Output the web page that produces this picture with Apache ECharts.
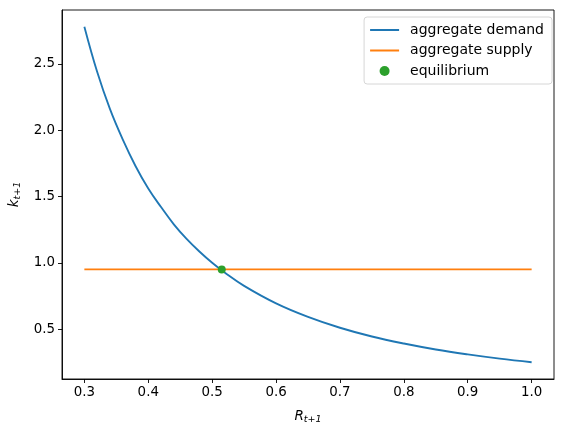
<!DOCTYPE html>
<html>
<head>
<meta charset="utf-8">
<script src="https://cdn.jsdelivr.net/npm/echarts@6/dist/echarts.min.js"></script>
<style>
  html, body { margin: 0; padding: 0; background: #fff; }
  #chart { width: 567px; height: 433px; }
</style>
</head>
<body>
<div id="chart"></div>
<script>
// values
const demandR = [0.30, 0.32, 0.34, 0.36, 0.38, 0.40, 0.42, 0.44, 0.46, 0.48, 0.50, 0.52,
  0.55, 0.60, 0.65, 0.70, 0.75, 0.80, 0.85, 0.90, 0.95, 1.00]
const demandK = [2.78, 2.44, 2.16, 1.93, 1.73, 1.56, 1.42, 1.29, 1.18, 1.085, 1.00, 0.925,
  0.826, 0.694, 0.592, 0.510, 0.444, 0.391, 0.346, 0.309, 0.277, 0.25]
const supplyR = [0.30, 1.00]
const supplyK = [0.95, 0.95]
const equilibrium = [0.515, 0.95]
const xTicks = [0.3, 0.4, 0.5, 0.6, 0.7, 0.8, 0.9, 1.0]
const yTicks = [0.5, 1.0, 1.5, 2.0, 2.5]

const font = 'DejaVu Sans'
const fs = 13.4
const zip = (xs, ys) => xs.map((x, i) => [x, ys[i]])

const chart = echarts.init(document.getElementById('chart'), null, { renderer: 'canvas' })

const subLabel = (base) => ({
  name: '{i|' + base + '}{s|t+1}',
  nameTextStyle: {
    rich: {
      i: { fontFamily: font, fontStyle: 'italic', fontSize: 13.5, color: '#000' },
      s: { fontFamily: font, fontStyle: 'italic', fontSize: 9.5, color: '#000', verticalAlign: 'bottom', padding: [7, 0, 0, 0] }
    }
  }
})

const option = {
  animation: false,
  grid: {
    left: 62, top: 10, right: 13, bottom: 54,
    outerBoundsMode: 'none',
    containLabel: false,
    show: true, borderColor: '#000', borderWidth: 0.9
  },
  legend: {
    orient: 'vertical',
    right: 15, top: 17,
    itemWidth: 29, itemHeight: 10, itemGap: 6.5,
    padding: [6, 8, 6, 5],
    borderColor: '#d6d6d6', borderWidth: 1, borderRadius: 3,
    textStyle: { fontFamily: font, fontSize: 14, color: '#000', padding: [0, 0, 0, 6] },
    data: [
      { name: 'aggregate demand', itemStyle: { opacity: 0 } },
      { name: 'aggregate supply', itemStyle: { opacity: 0 } },
      { name: 'equilibrium', icon: 'circle', itemStyle: { opacity: 1 } }
    ]
  },
  xAxis: {
    type: 'value',
    min: 0.265, max: 1.035,
    ...subLabel('R'),
    nameLocation: 'middle', nameGap: 29,
    axisLine: { show: true, lineStyle: { color: '#000', width: 0.9 } },
    axisTick: { show: true, length: 4, lineStyle: { color: '#000', width: 0.9 }, customValues: xTicks },
    axisLabel: {
      fontFamily: font, fontSize: fs, color: '#000', margin: 7,
      customValues: xTicks,
      formatter: v => v.toFixed(1)
    },
    splitLine: { show: false }
  },
  yAxis: {
    type: 'value',
    min: 0.1235, max: 2.906,
    ...subLabel('k'),
    nameLocation: 'middle', nameGap: 39,
    axisLine: { show: true, lineStyle: { color: '#000', width: 0.9 } },
    axisTick: { show: true, length: 4, lineStyle: { color: '#000', width: 0.9 }, customValues: yTicks },
    axisLabel: {
      fontFamily: font, fontSize: fs, color: '#000', margin: 7,
      customValues: yTicks,
      formatter: v => v.toFixed(1)
    },
    splitLine: { show: false }
  },
  series: [
    {
      name: 'aggregate demand',
      type: 'line',
      smooth: 0.4,
      symbol: 'none',
      data: zip(demandR, demandK),
      itemStyle: { color: '#1f77b4' },
      lineStyle: { color: '#1f77b4', width: 1.85 }
    },
    {
      name: 'aggregate supply',
      type: 'line',
      symbol: 'none',
      data: zip(supplyR, supplyK),
      itemStyle: { color: '#ff7f0e' },
      lineStyle: { color: '#ff7f0e', width: 1.85 }
    },
    {
      name: 'equilibrium',
      type: 'scatter',
      symbol: 'circle',
      symbolSize: 8,
      data: [equilibrium],
      itemStyle: { color: '#2ca02c', opacity: 1 },
      emphasis: { disabled: true },
      z: 5
    }
  ]
}

chart.setOption(option)
</script>
</body>
</html>
